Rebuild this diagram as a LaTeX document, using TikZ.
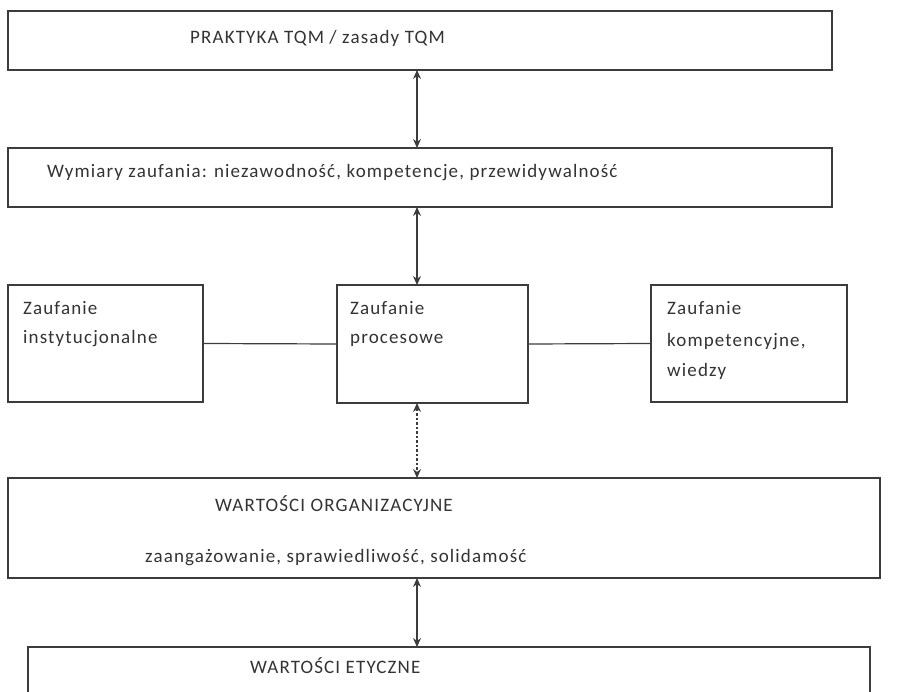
\documentclass[tikz,border=0pt]{standalone}
\usepackage{fontspec}
\setmainfont{Carlito}[LetterSpace=6]
\usetikzlibrary{arrows.meta}
\definecolor{linec}{HTML}{3C3C3C}
\definecolor{textc}{HTML}{333333}
\begin{document}
\begin{tikzpicture}[x=1pt,y=-1pt,
  box/.style={draw=linec, line width=1.6pt, rectangle, inner sep=0pt, outer sep=0pt},
  txt/.style={anchor=base west, inner sep=0pt, text=textc, font=\fontsize{19}{23}\selectfont},
  arr/.style={draw=linec, line width=1.2pt, {Stealth[length=9pt,width=8pt]}-{Stealth[length=9pt,width=8pt]}},
  conn/.style={draw=linec, line width=1.2pt}]
\useasboundingbox (0,0) rectangle (899,692);
\coordinate (axis) at (417,0);
% boxes
\node[box, minimum width=824pt, minimum height=59pt] (tqm) at (420,40.5) {};
\node[box, minimum width=824pt, minimum height=59pt] (dim) at (420,177.5) {};
\node[box, minimum width=195pt, minimum height=117pt] (inst) at (105.5,343.5) {};
\node[box, minimum width=191pt, minimum height=118pt] (proc) at (432.5,344) {};
\node[box, minimum width=196pt, minimum height=117pt] (komp) at (749,343.5) {};
\node[box, minimum width=872pt, minimum height=100pt] (org) at (444,528) {};
\node[box, minimum width=842pt, minimum height=100pt] (ety) at (449,697) {};
% texts
\node[txt] (t1) at (190,44) {PRAKTYKA TQM / zasady TQM};
\node[txt] (t2) at (47,178) {Wymiary zaufania: niezawodność, kompetencje, przewidywalność};
\node[txt] (t3a) at (23,315) {Zaufanie};
\node[txt] (t3b) at (23,344) {instytucjonalne};
\node[txt] (t4a) at (350,315) {Zaufanie};
\node[txt] (t4b) at (350,344) {procesowe};
\node[txt] (t5a) at (667,315) {Zaufanie};
\node[txt] (t5b) at (667,346) {kompetencyjne,};
\node[txt] (t5c) at (667,376) {wiedzy};
\node[txt] (t6a) at (215,511) {WARTOŚCI ORGANIZACYJNE};
\node[txt] (t6b) at (145,562) {zaangażowanie, sprawiedliwość, solidamość};
\node[txt] (t7) at (250,673) {WARTOŚCI ETYCZNE};
% connectors
\draw[arr] (tqm.south -| axis) -- (dim.north -| axis);
\draw[arr] (dim.south -| axis) -- (proc.north -| axis);
\draw[arr, dash pattern=on 2.5pt off 2pt] (proc.south -| axis) -- (org.north -| axis);
\draw[arr] (org.south -| axis) -- (ety.north -| axis);
\draw[conn] (inst.east) -- (proc.west);
\draw[conn] (proc.east) -- (komp.west);
\end{tikzpicture}
\end{document}
